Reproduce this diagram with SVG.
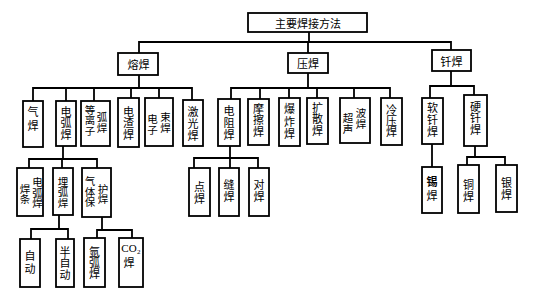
<svg xmlns="http://www.w3.org/2000/svg" width="535" height="301" viewBox="0 0 535 301">
<style>
.box{fill:#fff;stroke:#000;stroke-width:1.8}
.ln{fill:none;stroke:#000;stroke-width:1.8;stroke-linecap:square}
text,tspan{font-family:"Noto Sans CJK SC","Noto Sans CJK JP",sans-serif;font-size:11px;text-anchor:middle;dominant-baseline:central;fill:#000}
.v{writing-mode:vertical-rl;text-orientation:upright}
.s{font-size:10.5px}
.lat{font-family:"Liberation Serif",serif;font-size:11px}
.sub{font-family:"Liberation Serif",serif;font-size:7px;text-anchor:start}
</style>
<rect width="535" height="301" fill="#fff"/>
<g id="connectors">
<path class="ln" d="M309,32 V42 M139,42 H451 M139,42 V53 M308,42 V53 M451,42 V50"/>
<path class="ln" d="M139,75 V88 M33,101 V88 H192 V100 M66,88 V101 M94,88 V101 M131,88 V98 M159,88 V98"/>
<path class="ln" d="M308,73 V88 M231,99 V88 H390 V98 M260,88 V99 M289,88 V98 M317,88 V98 M354,88 V98"/>
<path class="ln" d="M451,71 V86 M430,98 V86 H474 V95"/>
<path class="ln" d="M432,144 V167 M475,146 V157 M467,165 V157 H505 V165"/>
<path class="ln" d="M63,146 V159 M29,168 V159 H97 V168 M62,159 V168"/>
<path class="ln" d="M230,146 V158 M194,168 V158 H258 V168 M230,158 V168"/>
<path class="ln" d="M59,215 V229 M31,239 V229 H68 V239"/>
<path class="ln" d="M102,217 V230 M97,238 V230 H132 V238"/>
</g>
<g id="root"><rect class="box" x="248" y="13" width="119" height="19"/><text x="308" y="22.5">主要焊接方法</text></g>
<g id="rh"><rect class="box" x="118" y="53" width="40" height="22"/><text x="138.5" y="64">熔焊</text></g>
<g id="yh"><rect class="box" x="288" y="53" width="40" height="20"/><text x="308" y="63">压焊</text></g>
<g id="qh2"><rect class="box" x="432" y="50" width="39" height="21"/><text x="451.5" y="60.5">钎焊</text></g>

<g id="qihan"><rect class="box" x="23" y="101" width="20" height="46"/><text class="v" x="33" y="120" letter-spacing="3">气焊</text></g>
<g id="dianhu"><rect class="box" x="56" y="101" width="20" height="45"/><text class="v" x="66" y="123.5" letter-spacing="0.5">电弧焊</text></g>
<g id="denglizi"><rect class="box" x="81" y="101" width="29" height="45"/><text class="v s" x="90" y="120.5">等离子</text><text class="v s" x="102" y="122.5" letter-spacing="0.5">弧焊</text></g>
<g id="dianzha"><rect class="box" x="118" y="98" width="21" height="49"/><text class="v" x="128.5" y="123.5" letter-spacing="0.5">电渣焊</text></g>
<g id="dianzishu"><rect class="box" x="145" y="98" width="28" height="48"/><text class="v s" x="152.5" y="124.5">电子</text><text class="v s" x="165.5" y="122.5" letter-spacing="0.5">束焊</text></g>
<g id="jiguang"><rect class="box" x="183" y="100" width="20" height="46"/><text class="v" x="193" y="124" letter-spacing="1">激光焊</text></g>

<g id="dianzu"><rect class="box" x="218" y="99" width="22" height="47"/><text class="v" x="229" y="123" letter-spacing="1">电阻焊</text></g>
<g id="moca"><rect class="box" x="248" y="99" width="21" height="46"/><text class="v" x="258.5" y="120.5" letter-spacing="0.5">摩擦焊</text></g>
<g id="baozha"><rect class="box" x="279" y="98" width="21" height="48"/><text class="v" x="289.5" y="122.5" letter-spacing="1.5">爆炸焊</text></g>
<g id="kuosan"><rect class="box" x="307" y="98" width="21" height="46"/><text class="v" x="317.5" y="119.5" letter-spacing="0.5">扩散焊</text></g>
<g id="chaosheng"><rect class="box" x="340" y="98" width="30" height="45"/><text class="v s" x="348" y="123.5">超声</text><text class="v s" x="361" y="118.5" letter-spacing="0.5">波焊</text></g>
<g id="lengya"><rect class="box" x="381" y="98" width="21" height="47"/><text class="v" x="391.5" y="121">冷压焊</text></g>

<g id="ruanqian"><rect class="box" x="422" y="98" width="21" height="46"/><text class="v" x="432.5" y="120" letter-spacing="1">软钎焊</text></g>
<g id="yingqian"><rect class="box" x="464" y="95" width="23" height="51"/><text class="v" x="475.5" y="118.5" letter-spacing="0.5">硬钎焊</text></g>
<g id="xihan"><rect class="box" x="422" y="167" width="20" height="46"/><text class="v" x="432" y="190" letter-spacing="3"><tspan font-weight="bold">锡</tspan>焊</text></g>
<g id="tonghan"><rect class="box" x="458" y="165" width="21" height="48"/><text class="v" x="468.5" y="191" letter-spacing="1">铜焊</text></g>
<g id="yinhan"><rect class="box" x="496" y="165" width="21" height="47"/><text class="v" x="506.5" y="189" letter-spacing="1">银焊</text></g>

<g id="dianhuhantiao"><rect class="box" x="17" y="168" width="26" height="48"/><text class="v s" x="37.5" y="193">电弧焊</text><text class="v s" x="25" y="194">焊条</text></g>
<g id="maihu"><rect class="box" x="53" y="168" width="20" height="47"/><text class="v s" x="63" y="192.5">埋弧焊</text></g>
<g id="qitibaohu"><rect class="box" x="82" y="168" width="29" height="49"/><text class="v s" x="90" y="192">气体保</text><text class="v s" x="103" y="194">护焊</text></g>

<g id="dian"><rect class="box" x="189" y="168" width="21" height="48"/><text class="v" x="199.5" y="193" letter-spacing="1">点焊</text></g>
<g id="feng"><rect class="box" x="219" y="168" width="20" height="48"/><text class="v" x="229" y="191" letter-spacing="1">缝焊</text></g>
<g id="dui"><rect class="box" x="249" y="168" width="20" height="48"/><text class="v" x="259" y="191" letter-spacing="1">对焊</text></g>

<g id="zidong"><rect class="box" x="20" y="239" width="20" height="48"/><text class="v" x="30" y="263.5" letter-spacing="2">自动</text></g>
<g id="banzidong"><rect class="box" x="56" y="239" width="18" height="48"/><text class="v" x="65" y="263.5" letter-spacing="0.5">半自动</text></g>
<g id="yahu"><rect class="box" x="84" y="238" width="21" height="49"/><text class="v" x="94.5" y="263">氩弧焊</text></g>
<g id="co2"><rect class="box" x="119" y="238" width="24" height="49"/><text class="lat" x="129" y="248">CO</text><text class="sub" x="137" y="252">2</text><text x="129" y="262">焊</text></g>
</svg>
